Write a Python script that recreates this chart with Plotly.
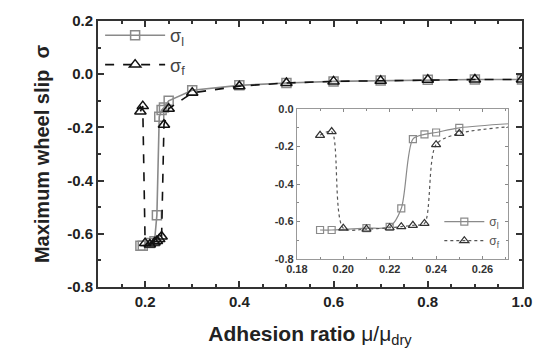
import plotly.graph_objects as go

# sigma_l (squares, gray solid)
x_l = [0.19, 0.195, 0.21, 0.22, 0.225, 0.23, 0.235, 0.24, 0.25, 0.3, 0.4, 0.5, 0.6, 0.7, 0.8, 0.9, 1.0]
y_l = [-0.645, -0.645, -0.635, -0.628, -0.53, -0.16, -0.135, -0.125, -0.10, -0.06, -0.042, -0.033, -0.027, -0.024, -0.021, -0.02, -0.02]
# sigma_f (triangles, black dashed)
x_f = [0.19, 0.195, 0.20, 0.21, 0.22, 0.225, 0.23, 0.235, 0.24, 0.25, 0.3, 0.4, 0.5, 0.6, 0.7, 0.8, 0.9, 1.0]
y_f = [-0.14, -0.12, -0.635, -0.64, -0.633, -0.627, -0.62, -0.61, -0.19, -0.13, -0.07, -0.045, -0.033, -0.027, -0.025, -0.021, -0.02, -0.02]

x_ticks_main = [0.2, 0.4, 0.6, 0.8, 1.0]
y_ticks_main = [-0.8, -0.6, -0.4, -0.2, 0.0, 0.2]
x_ticks_inset = [0.18, 0.20, 0.22, 0.24, 0.26]
y_ticks_inset = [-0.8, -0.6, -0.4, -0.2, 0.0]

GRAY = "#8a8a8a"
FONT = "Liberation Sans, Arial, sans-serif"

fig = go.Figure()

# main traces
fig.add_trace(go.Scatter(
    x=x_l, y=y_l, mode="lines+markers", name="σ<sub>l</sub>",
    line=dict(color=GRAY, width=1.6),
    marker=dict(symbol="square-open", size=9, color=GRAY, line=dict(width=1.5)),
    legend="legend", legendgroup="a", xaxis="x", yaxis="y"))
fig.add_trace(go.Scatter(
    x=x_f, y=y_f, mode="lines+markers", name="σ<sub>f</sub>",
    line=dict(color="#111111", width=1.6, dash="dash"),
    marker=dict(symbol="triangle-up-open", size=10, color="#111111", line=dict(width=1.5)),
    legend="legend", legendgroup="b", xaxis="x", yaxis="y"))

# inset traces
fig.add_trace(go.Scatter(
    x=x_l, y=y_l, mode="lines+markers", name="σ<sub>l</sub>",
    line=dict(color=GRAY, width=1.2, shape="spline", smoothing=0.8),
    marker=dict(symbol="square-open", size=7, color=GRAY, line=dict(width=1.2)),
    legend="legend2", xaxis="x2", yaxis="y2", cliponaxis=True))
fig.add_trace(go.Scatter(
    x=x_f, y=y_f, mode="lines+markers", name="σ<sub>f</sub>",
    line=dict(color="#555555", width=1.2, dash="dot", shape="spline", smoothing=0.8),
    marker=dict(symbol="triangle-up-open", size=8, color="#333333", line=dict(width=1.2)),
    legend="legend2", xaxis="x2", yaxis="y2", cliponaxis=True))

axis_common = dict(showgrid=False, zeroline=False, ticks="inside", mirror="allticks",
                   showline=True)

fig.update_layout(
    width=552, height=357,
    margin=dict(l=98, r=30, t=21, b=70),
    paper_bgcolor="white", plot_bgcolor="white",
    font=dict(family=FONT, color="#222222"),
    xaxis=dict(**axis_common, range=[0.1, 1.0], tickvals=x_ticks_main,
               ticktext=[f"{v:.1f}" for v in x_ticks_main],
               linecolor="#333333", linewidth=2, ticklen=6, tickwidth=1.5, tickcolor="#333333",
               minor=dict(dtick=0.05, ticks="inside", ticklen=3, tickwidth=1.5, tickcolor="#333333"),
               tickfont=dict(size=15, weight="bold", color="#222222"),
               title=dict(text="Adhesion ratio <span style='font-weight:normal'>μ/μ<sub>dry</sub></span>", standoff=17,
                          font=dict(size=21, weight="bold", color="#222222"))),
    yaxis=dict(**axis_common, range=[-0.8, 0.2], tickvals=y_ticks_main,
               ticktext=[f"{v:.1f}" for v in y_ticks_main],
               linecolor="#333333", linewidth=2, ticklen=6, tickwidth=1.5, tickcolor="#333333",
               minor=dict(dtick=0.1, ticks="inside", ticklen=3, tickwidth=1.5, tickcolor="#333333"),
               tickfont=dict(size=15, weight="bold", color="#222222"),
               title=dict(text="Maximum wheel slip  σ", standoff=12,
                          font=dict(size=20, weight="bold", color="#222222"))),
    xaxis2=dict(**axis_common, domain=[0.469, 0.967], anchor="y2", range=[0.18, 0.271],
                tickvals=x_ticks_inset, ticktext=[f"{v:.2f}" for v in x_ticks_inset],
                linecolor="#999999", linewidth=1, ticklen=3, tickwidth=1, tickcolor="#888888",
                minor=dict(dtick=0.01, ticks="inside", ticklen=2, tickcolor="#888888"),
                tickfont=dict(size=11, weight="bold", color="#333333")),
    yaxis2=dict(**axis_common, domain=[0.105, 0.669], anchor="x2", range=[-0.8, 0.0],
                tickvals=y_ticks_inset, ticktext=[f"{v:.1f}" for v in y_ticks_inset],
                linecolor="#999999", linewidth=1, ticklen=3, tickwidth=1, tickcolor="#888888",
                minor=dict(dtick=0.1, ticks="inside", ticklen=2, tickcolor="#888888"),
                tickfont=dict(size=11, weight="bold", color="#333333")),
    legend=dict(x=0.005, y=1.015, xanchor="left", yanchor="top", bgcolor="rgba(0,0,0,0)",
                itemwidth=60, tracegroupgap=3, font=dict(size=18, color="#444444")),
    legend2=dict(x=0.805, y=0.30, xanchor="left", yanchor="top", bgcolor="rgba(0,0,0,0)",
                 itemwidth=40, font=dict(size=12, color="#555555")),
)

fig.write_html("out.html")
